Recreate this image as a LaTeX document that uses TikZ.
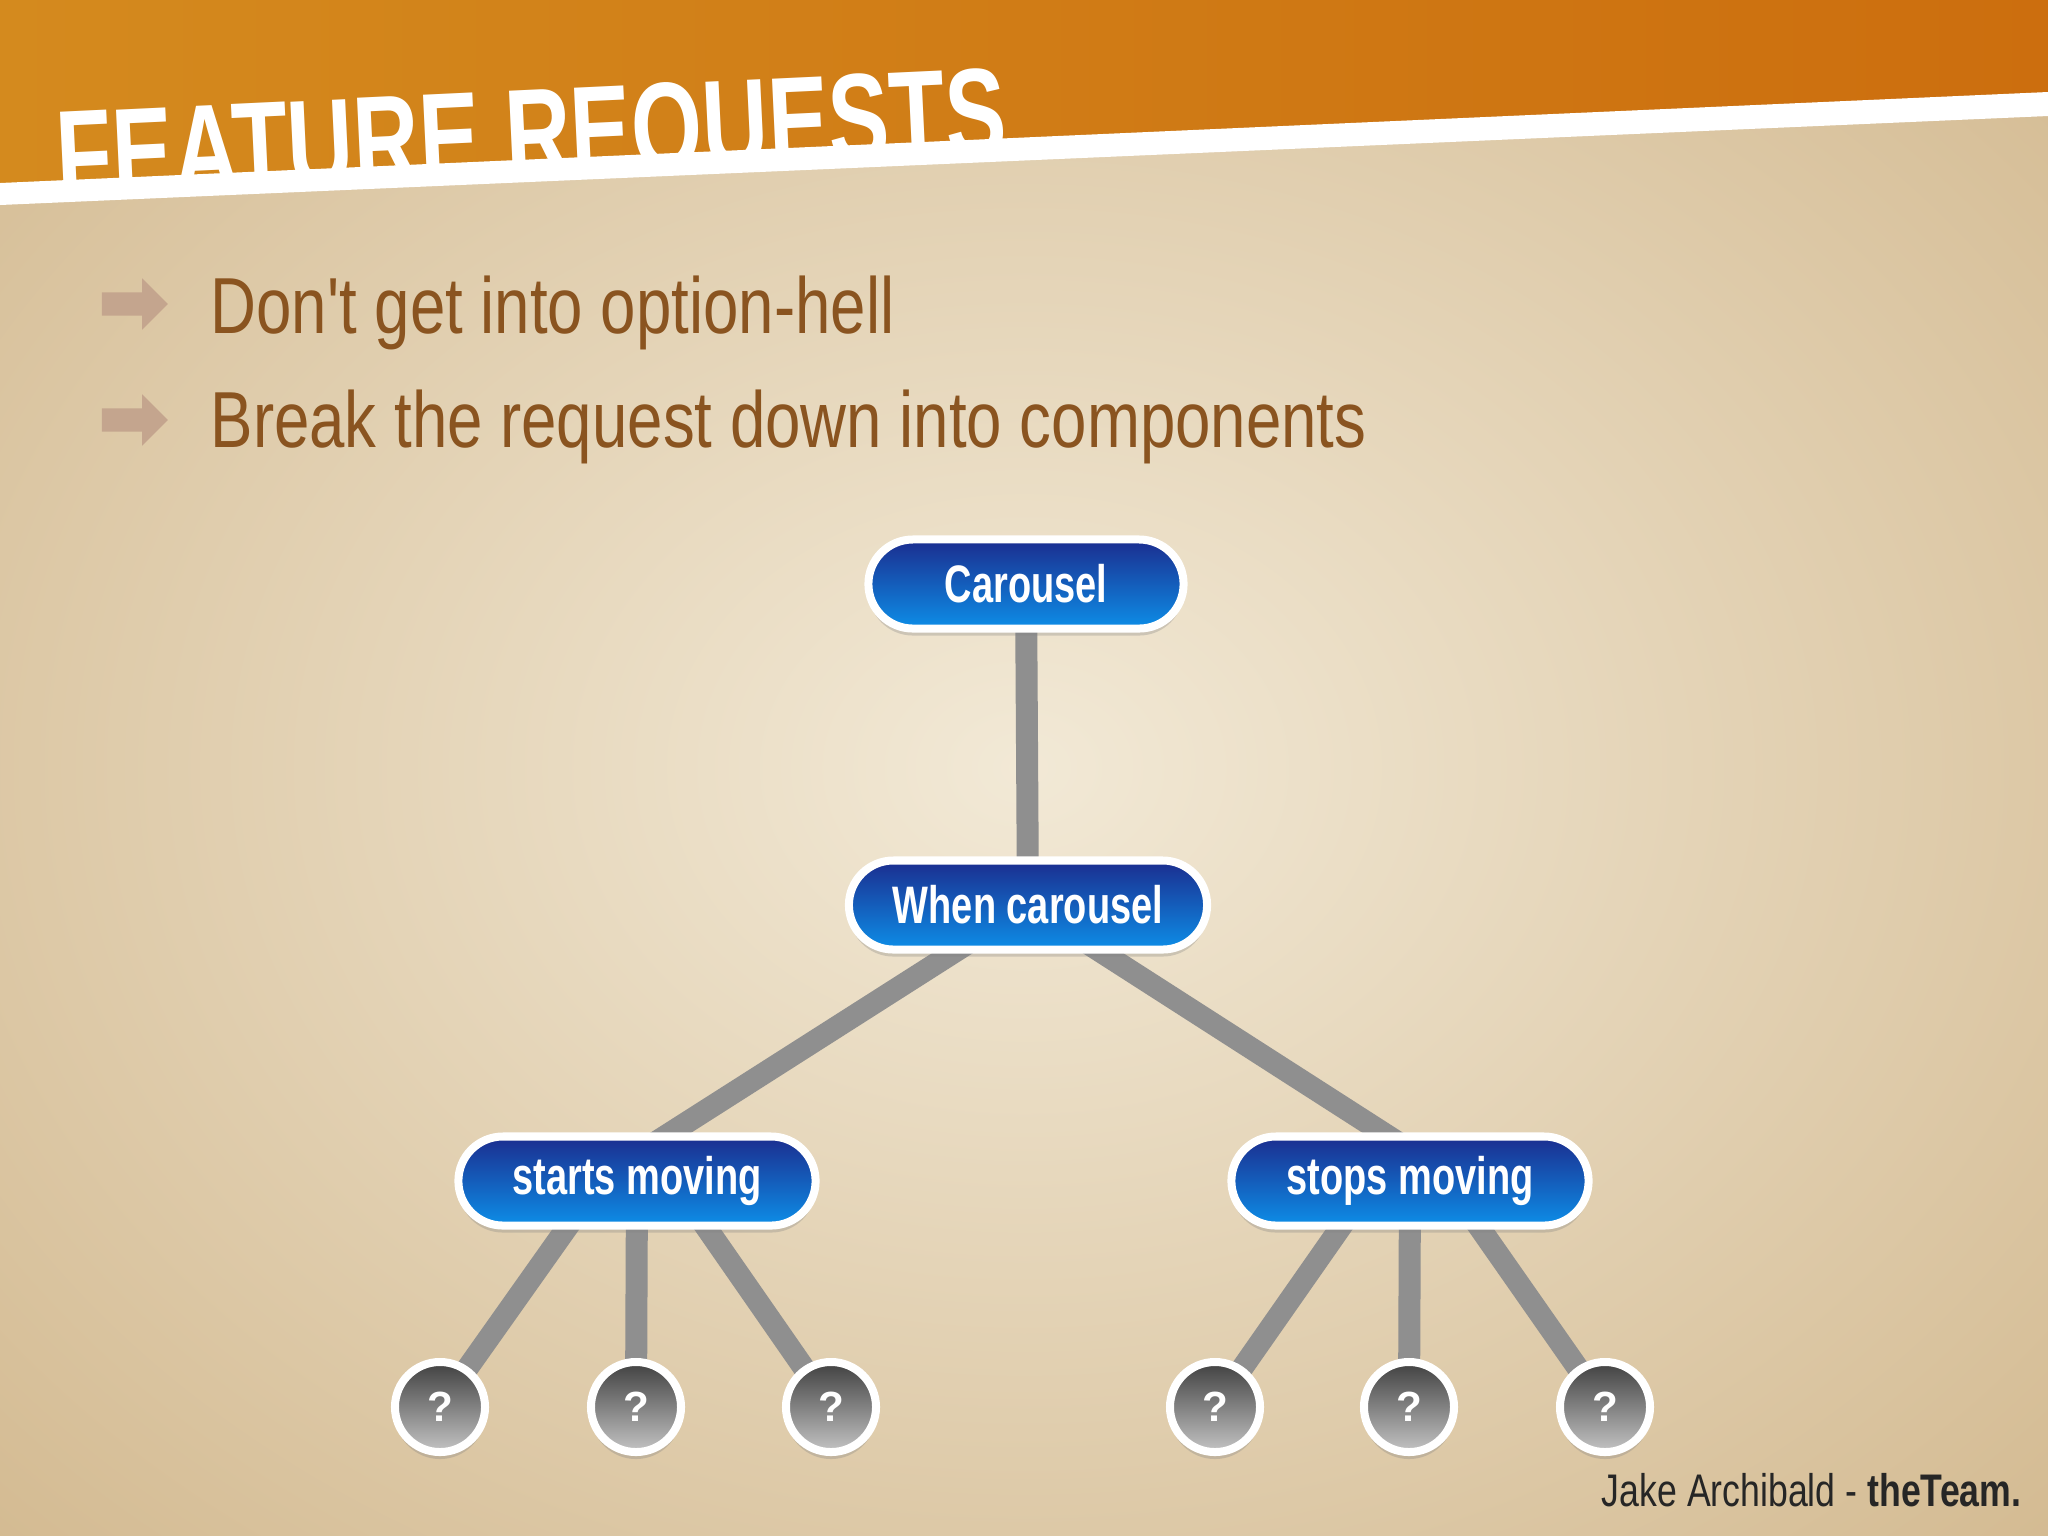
\documentclass[tikz,border=0pt]{standalone}
\usepackage{fontspec}
\usepackage{graphicx}
\setmainfont{Liberation Sans}
\usetikzlibrary{positioning,shadows,shapes.arrows}

\definecolor{paperlight}{RGB}{242,233,214}
\definecolor{paperdark}{RGB}{210,184,142}
\definecolor{bandleft}{RGB}{212,138,30}
\definecolor{bandmid}{RGB}{228,158,22}
\definecolor{bandright}{RGB}{204,110,14}
\definecolor{bullettext}{RGB}{138,84,32}
\definecolor{bulletarrow}{RGB}{196,165,142}
\definecolor{pilltop}{RGB}{27,45,143}
\definecolor{pillbottom}{RGB}{13,142,232}
\definecolor{qtop}{RGB}{64,64,64}
\definecolor{qbottom}{RGB}{196,196,196}
\definecolor{linkgray}{RGB}{143,143,143}

\newcommand{\cond}[2][0.72]{\scalebox{#1}[1]{#2}}

\pgfdeclarelayer{paper}
\pgfdeclarelayer{links}
\pgfsetlayers{paper,links,main}

\tikzset{
  title/.style={text=white, font=\fontsize{36}{40}\selectfont\bfseries,
    anchor=base west, rotate=2.7, inner sep=0pt},
  bullet/.style={text=bullettext, font=\fontsize{22.6}{26}\selectfont,
    anchor=base west, inner sep=0pt},
  bularrow/.style={single arrow, fill=bulletarrow, draw=none,
    inner xsep=0pt, inner ysep=0.11cm,
    minimum height=0.66cm, minimum width=0.5cm,
    single arrow head extend=0.14cm},
  pill/.style={draw=white, line width=0.08cm, rounded corners=0.445cm,
    minimum height=0.89cm, minimum width=3.57cm, inner sep=0pt,
    top color=pilltop, bottom color=pillbottom, text=white,
    font=\fontsize{15}{18}\selectfont\bfseries,
    drop shadow={shadow xshift=0cm, shadow yshift=-0.07cm, opacity=0.3}},
  qmark/.style={circle, draw=white, line width=0.08cm, minimum size=0.9cm,
    inner sep=0pt, top color=qtop, bottom color=qbottom, text=white,
    font=\fontsize{12}{14}\selectfont\bfseries,
    drop shadow={shadow xshift=0cm, shadow yshift=-0.07cm, opacity=0.3}},
  link/.style={draw=linkgray, line width=0.22cm},
  footer/.style={text=black!85, font=\fontsize{13}{16}\selectfont,
    anchor=base east, inner sep=0pt}
}

\begin{document}
\begin{tikzpicture}[x=0.01cm,y=-0.01cm]
  \useasboundingbox (0,0) rectangle (2048,1535);

  % paper, band and title
  \begin{pgfonlayer}{paper}
    \shade[inner color=paperlight, outer color=paperdark] (-500,-400) rectangle (2548,1935);
    \shade[left color=bandleft, middle color=bandmid, right color=bandright]
      (0,0) -- (2048,0) -- (2048,96) -- (0,187) -- cycle;
    \begin{scope}
      \clip (0,0) -- (2048,0) -- (2048,96) -- (0,187) -- cycle;
      \node[title] (title) at (58,200) {\cond[0.72]{FEATURE REQUESTS}};
    \end{scope}
    \fill[white] (0,183) -- (2048,92) -- (2048,116) -- (0,205) -- cycle;
  \end{pgfonlayer}

  % bullets
  \node[bularrow] (arr1) at (129,304) {};
  \node[bularrow] (arr2) at (129,420) {};
  \node[bullet] (b1) at (210,333) {\cond[0.8]{Don\textquotesingle t get into option-hell}};
  \node[bullet] (b2) at (210,447) {\cond[0.8]{Break the request down into components}};

  % tree
  \node[pill, minimum width=3.15cm] (carousel) at (1026,584) {\cond{Carousel}};
  \node[pill, minimum width=3.58cm] (when) at (1028,905) {\cond{When carousel}};
  \node[pill] (starts) at (637,1181) {\cond{starts moving}};
  \node[pill] (stops) at (1410,1181) {\cond{stops moving}};
  \foreach \n/\x in {q1/440,q2/636,q3/831,q4/1215,q5/1409,q6/1605}
    \node[qmark] (\n) at (\x,1407) {?};

  \begin{pgfonlayer}{links}
    \draw[link] (carousel.center) -- (when.center);
    \draw[link] (when.center) -- ([xshift=-0.42cm]starts.center);
    \draw[link] (when.center) -- ([xshift=0.48cm]stops.center);
    \draw[link] ([xshift=-0.37cm]starts.center) -- (q1.center);
    \draw[link] (starts.center) -- (q2.center);
    \draw[link] ([xshift=0.37cm]starts.center) -- (q3.center);
    \draw[link] ([xshift=-0.37cm]stops.center) -- (q4.center);
    \draw[link] (stops.center) -- (q5.center);
    \draw[link] ([xshift=0.37cm]stops.center) -- (q6.center);
  \end{pgfonlayer}

  \node[footer] (credit) at (2022,1506) {\cond[0.78]{Jake Archibald - \textbf{theTeam.}}};
\end{tikzpicture}
\end{document}
